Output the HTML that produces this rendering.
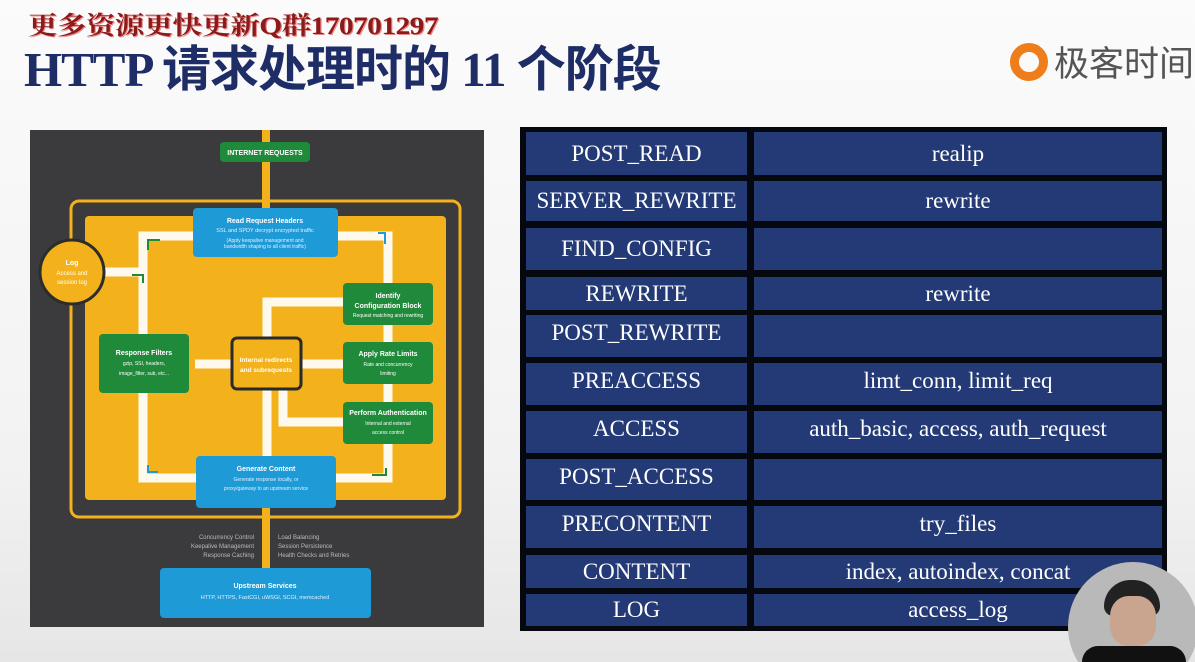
<!DOCTYPE html>
<html><head><meta charset="utf-8"><style>
*{margin:0;padding:0;box-sizing:border-box}
html{width:1195px;height:662px;overflow:hidden}
body{width:1195px;height:662px;overflow:hidden;background:linear-gradient(#fbfbfb,#f2f2f2 70%,#e6e6e6);position:relative;font-family:"Liberation Serif","Noto Serif CJK SC",serif}
.wm{position:absolute;left:28px;top:6px;font-size:25px;color:#8b1a1a;font-weight:bold;letter-spacing:-0.5px;font-family:"Liberation Serif","Noto Serif CJK SC",serif;text-shadow:1px 1px 0 #e88;transform:scaleX(1.18);transform-origin:left top;white-space:nowrap}
.title{position:absolute;left:24px;top:30px;font-size:49px;font-weight:bold;color:#1f2d66;font-family:"Liberation Serif","Noto Sans CJK SC",sans-serif;letter-spacing:-1px;white-space:nowrap}
.logo{position:absolute;left:1010px;top:36px;font-size:35px;color:#555;font-family:"Liberation Sans","Noto Sans CJK SC",sans-serif;white-space:nowrap}
.logo span{display:inline-block;width:38px;height:38px;border-radius:50%;border:9px solid #f07d1c;vertical-align:-5px;margin-right:6px}
.tbl{position:absolute;left:520px;top:127px;width:647px;height:504px;background:#060810}
.c{position:absolute;background:#233a76;color:#fff;font-size:23px;display:flex;align-items:center;justify-content:center;white-space:nowrap}
.p{position:absolute;left:1068px;top:562px;width:127px;height:100px;background:#b9b9b9;overflow:hidden;clip-path:circle(65px at 65px 65px)}
</style></head><body>
<div class="wm">更多资源更快更新Q群170701297</div>
<div class="title">HTTP 请求处理时的 11 个阶段</div>
<div class="logo"><span></span>极客时间</div>

<svg style="position:absolute;left:30px;top:130px" width="454" height="497" viewBox="30 130 454 497" font-family="Liberation Sans,sans-serif">
<rect x="30" y="130" width="454" height="497" fill="#3b3b3d"/>
<rect x="262" y="130" width="8" height="440" fill="#f3b21b"/>
<rect x="71" y="201" width="389" height="316" rx="8" fill="none" stroke="#f3b21b" stroke-width="3"/>
<rect x="85" y="216" width="361" height="284" rx="4" fill="#f3b21b"/>
<g fill="none" stroke="#fff" stroke-width="9" opacity="0.92">
<path d="M193 236 H143 V478 H196"/>
<path d="M338 236 H388 V478 H336"/>
<path d="M343 302 H267 V337"/>
<path d="M267 389 V456"/>
<path d="M343 422 H283 V389"/>
<path d="M195 364 H232"/>
<path d="M301 364 H343"/>
<path d="M100 272 H143"/>
</g>
<circle cx="72" cy="272" r="32" fill="#f3b21b" stroke="#2c2c2c" stroke-width="3"/>
<text x="72" y="265" font-size="7" font-weight="bold" fill="#fff" text-anchor="middle">Log</text>
<text x="72" y="275" font-size="6" fill="#fff" text-anchor="middle">Access and</text>
<text x="72" y="284" font-size="6" fill="#fff" text-anchor="middle">session log</text>
<rect x="220" y="142" width="90" height="20" rx="4" fill="#1f8a3a"/>
<text x="265" y="155" font-size="7" font-weight="bold" fill="#fff" text-anchor="middle">INTERNET REQUESTS</text>
<rect x="193" y="208" width="145" height="49" rx="4" fill="#1e9bd7"/>
<text x="265" y="223" font-size="7" font-weight="bold" fill="#fff" text-anchor="middle">Read Request Headers</text>
<text x="265" y="232" font-size="5.5" fill="#e0f0ff" text-anchor="middle">SSL and SPDY decrypt encrypted traffic</text>
<text x="265" y="242" font-size="5" fill="#e0f0ff" text-anchor="middle">(Apply keepalive management and</text>
<text x="265" y="248" font-size="5" fill="#e0f0ff" text-anchor="middle">bandwidth shaping to all client traffic)</text>
<g fill="#1f8a3a"><rect x="343" y="283" width="90" height="42" rx="4"/><rect x="343" y="342" width="90" height="42" rx="4"/><rect x="343" y="402" width="90" height="42" rx="4"/><rect x="99" y="334" width="90" height="59" rx="4"/></g>
<g fill="#fff" text-anchor="middle">
<text x="388" y="298" font-size="7" font-weight="bold">Identify</text>
<text x="388" y="308" font-size="7" font-weight="bold">Configuration Block</text>
<text x="388" y="317" font-size="5">Request matching and rewriting</text>
<text x="388" y="356" font-size="7" font-weight="bold">Apply Rate Limits</text>
<text x="388" y="366" font-size="5">Rate and concurrency</text>
<text x="388" y="375" font-size="5">limiting</text>
<text x="388" y="415" font-size="7" font-weight="bold">Perform Authentication</text>
<text x="388" y="425" font-size="5">Internal and external</text>
<text x="388" y="434" font-size="5">access control</text>
<text x="144" y="355" font-size="7" font-weight="bold">Response Filters</text>
<text x="144" y="365" font-size="5">gzip, SSI, headers,</text>
<text x="144" y="375" font-size="5">image_filter, sub, etc...</text>
</g>
<rect x="232" y="338" width="69" height="51" rx="5" fill="#f3b21b" stroke="#2a2a2a" stroke-width="3"/>
<text x="266" y="362" font-size="6.5" font-weight="bold" fill="#fff" text-anchor="middle">Internal redirects</text>
<text x="266" y="372" font-size="6.5" font-weight="bold" fill="#fff" text-anchor="middle">and subrequests</text>
<rect x="196" y="456" width="140" height="52" rx="4" fill="#1e9bd7"/>
<text x="266" y="471" font-size="7" font-weight="bold" fill="#fff" text-anchor="middle">Generate Content</text>
<text x="266" y="481" font-size="5" fill="#e0f0ff" text-anchor="middle">Generate response locally, or</text>
<text x="266" y="490" font-size="5" fill="#e0f0ff" text-anchor="middle">proxy/gateway to an upstream service</text>
<g font-size="6" fill="#bbb"><text x="254" y="539" text-anchor="end">Concurrency Control</text><text x="254" y="548" text-anchor="end">Keepalive Management</text><text x="254" y="557" text-anchor="end">Response Caching</text>
<text x="278" y="539">Load Balancing</text><text x="278" y="548">Session Persistence</text><text x="278" y="557">Health Checks and Retries</text></g>
<rect x="160" y="568" width="211" height="50" rx="4" fill="#1e9bd7"/>
<text x="265" y="588" font-size="7" font-weight="bold" fill="#fff" text-anchor="middle">Upstream Services</text>
<text x="265" y="599" font-size="5.5" fill="#e0f0ff" text-anchor="middle">HTTP, HTTPS, FastCGI, uWSGI, SCGI, memcached</text>
<g fill="none" stroke-width="2"><path d="M148 250 V240 H160" stroke="#1f8a3a"/><path d="M143 283 V275 H132" stroke="#1f8a3a"/><path d="M378 233 H385 V244" stroke="#1e9bd7"/><path d="M386 468 V475 H372" stroke="#1f8a3a"/><path d="M148 465 V472 H158" stroke="#1e9bd7"/></g>
</svg>

<div class="tbl"></div>
<div class="c" style="left:526px;top:132px;width:221px;height:43px">POST_READ</div><div class="c" style="left:754px;top:132px;width:408px;height:43px">realip</div>
<div class="c" style="left:526px;top:181px;width:221px;height:40px">SERVER_REWRITE</div><div class="c" style="left:754px;top:181px;width:408px;height:40px">rewrite</div>
<div class="c" style="left:526px;top:228px;width:221px;height:42px">FIND_CONFIG</div><div class="c" style="left:754px;top:228px;width:408px;height:42px"></div>
<div class="c" style="left:526px;top:277px;width:221px;height:33px">REWRITE</div><div class="c" style="left:754px;top:277px;width:408px;height:33px">rewrite</div>
<div class="c" style="left:526px;top:315px;width:221px;height:42px;padding-bottom:6px">POST_REWRITE</div><div class="c" style="left:754px;top:315px;width:408px;height:42px"></div>
<div class="c" style="left:526px;top:363px;width:221px;height:42px;padding-bottom:6px">PREACCESS</div><div class="c" style="left:754px;top:363px;width:408px;height:42px;padding-bottom:6px">limt_conn, limit_req</div>
<div class="c" style="left:526px;top:411px;width:221px;height:42px;padding-bottom:6px">ACCESS</div><div class="c" style="left:754px;top:411px;width:408px;height:42px;padding-bottom:6px">auth_basic, access, auth_request</div>
<div class="c" style="left:526px;top:459px;width:221px;height:41px;padding-bottom:6px">POST_ACCESS</div><div class="c" style="left:754px;top:459px;width:408px;height:41px"></div>
<div class="c" style="left:526px;top:506px;width:221px;height:42px;padding-bottom:6px">PRECONTENT</div><div class="c" style="left:754px;top:506px;width:408px;height:42px;padding-bottom:6px">try_files</div>
<div class="c" style="left:526px;top:555px;width:221px;height:33px">CONTENT</div><div class="c" style="left:754px;top:555px;width:408px;height:33px">index, autoindex, concat</div>
<div class="c" style="left:526px;top:594px;width:221px;height:32px">LOG</div><div class="c" style="left:754px;top:594px;width:408px;height:32px">access_log</div>

<div class="p">
<div style="position:absolute;left:36px;top:18px;width:56px;height:36px;border-radius:28px 28px 10px 10px;background:#222"></div>
<div style="position:absolute;left:42px;top:34px;width:46px;height:50px;border-radius:40%;background:#c9a48f"></div>
<div style="position:absolute;left:14px;top:84px;width:104px;height:16px;border-radius:40px 40px 0 0;background:#111"></div>
</div>
</body></html>
